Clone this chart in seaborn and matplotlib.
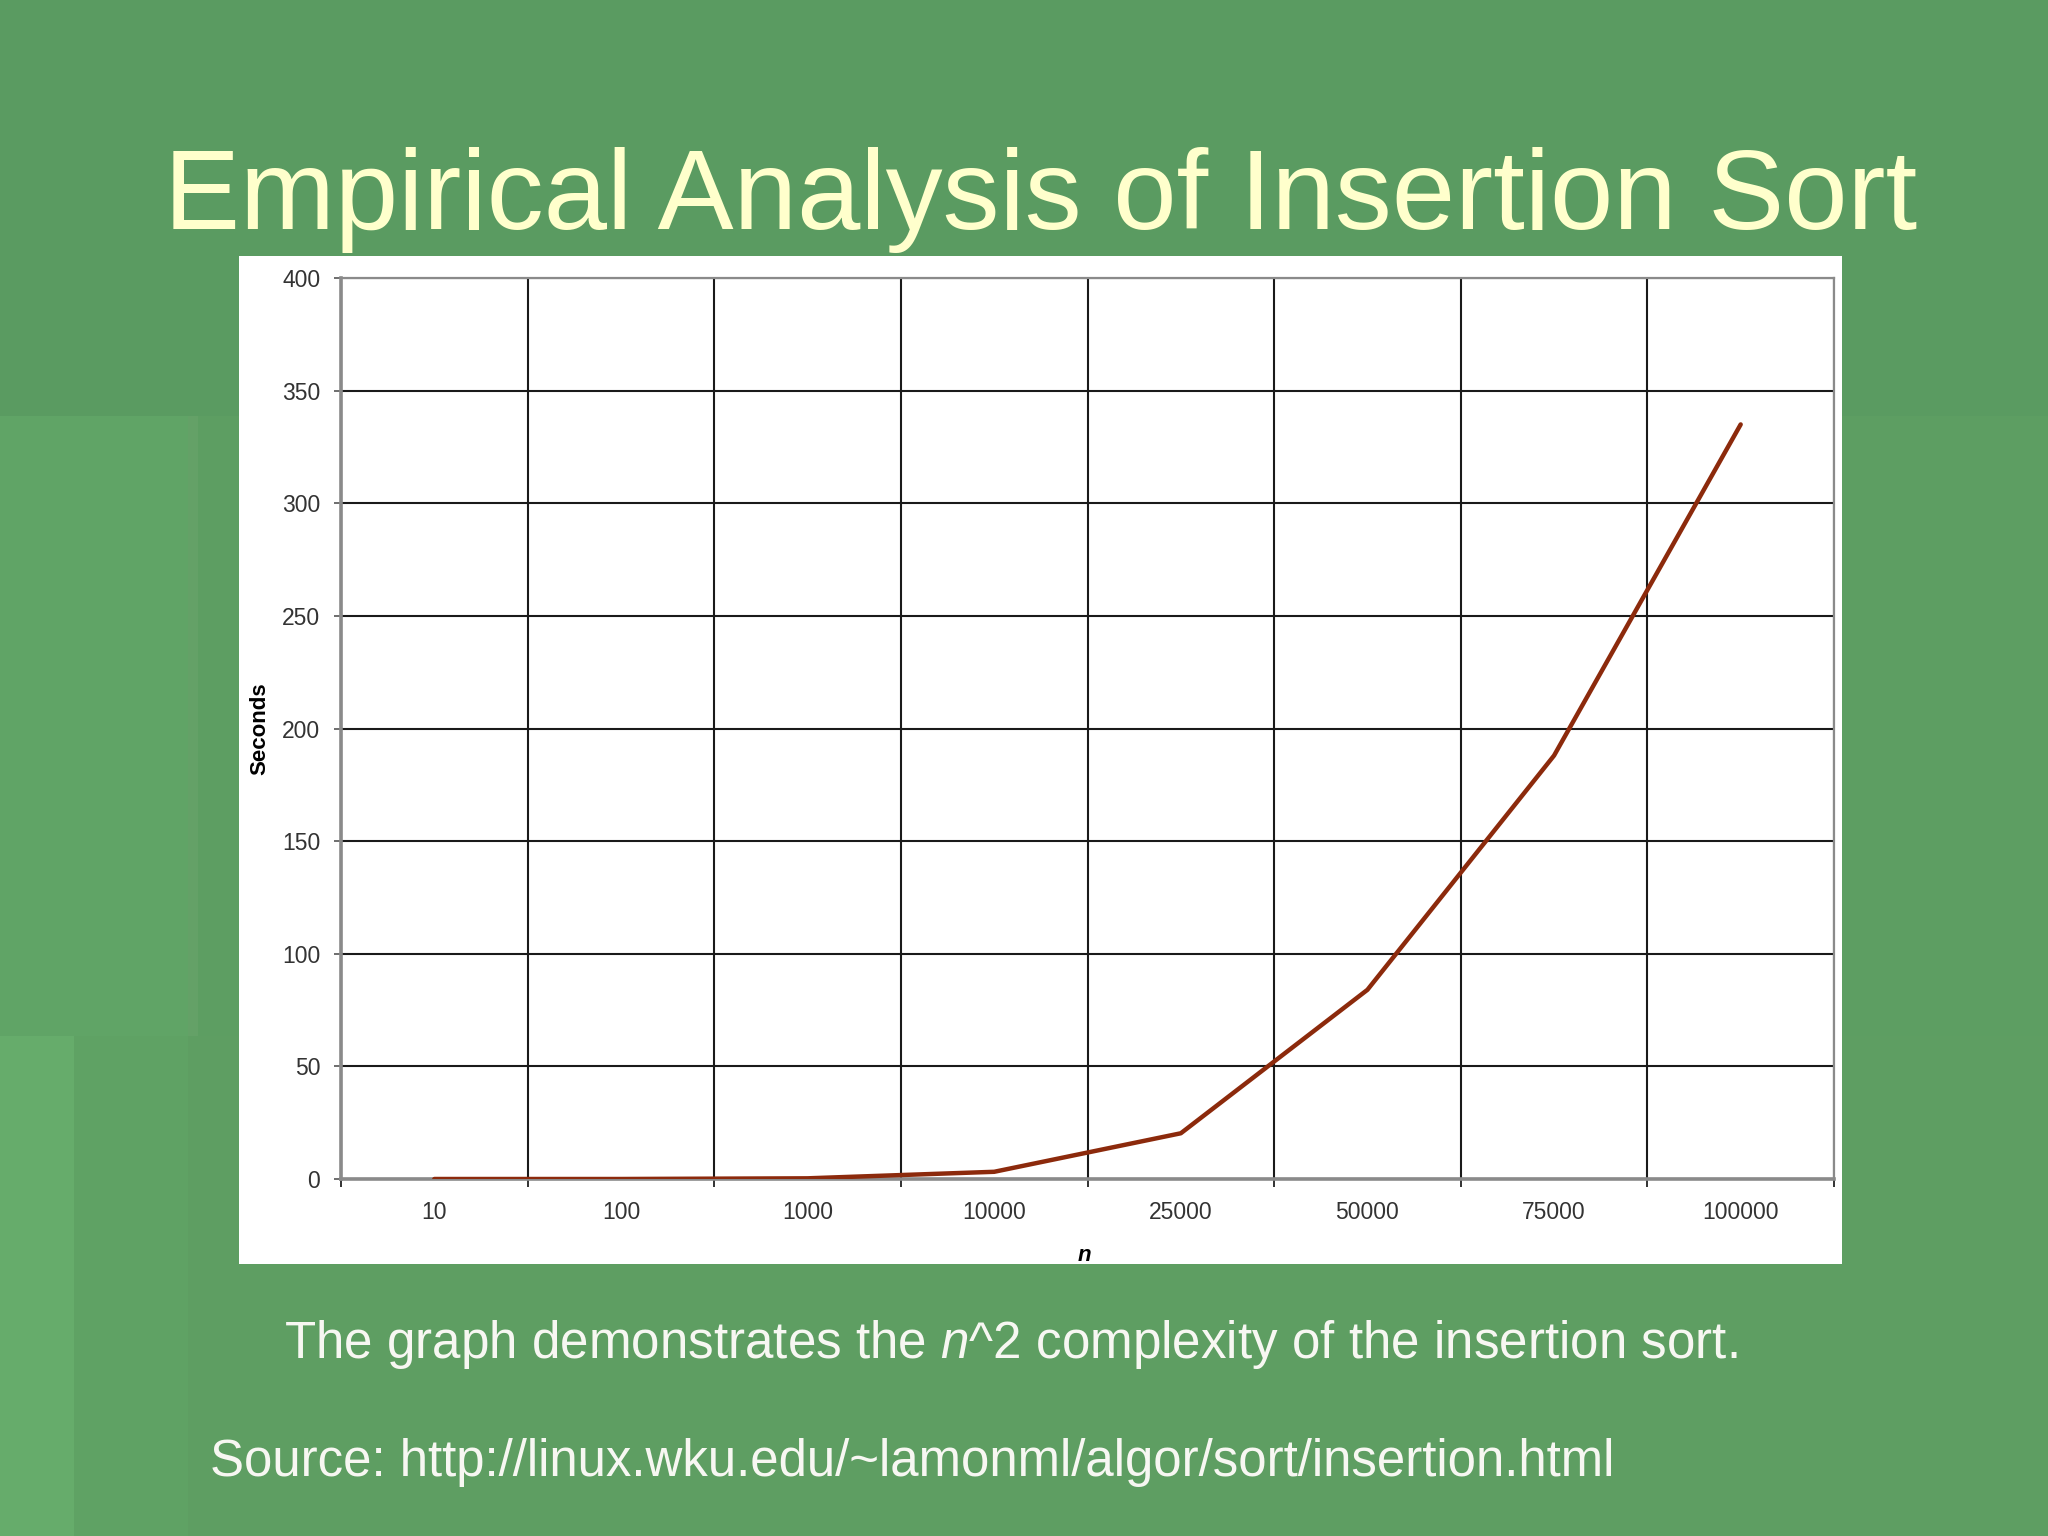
import matplotlib

matplotlib.use("Agg")
import matplotlib.pyplot as plt
import numpy as np
import pandas as pd
import seaborn as sns
from matplotlib.patches import Rectangle

# values
n_labels = ["10", "100", "1000", "10000", "25000", "50000", "75000", "100000"]
seconds = [0.0, 0.0, 0.3, 3.2, 20.3, 84.0, 188.0, 335.0]
y_ticks = [0, 50, 100, 150, 200, 250, 300, 350, 400]

title = "Empirical Analysis of Insertion Sort"
caption = r"The graph demonstrates the $\mathit{n}$^2 complexity of the insertion sort."
source = "Source: http://linux.wku.edu/~lamonml/algor/sort/insertion.html"

W, H = 2048, 1536

sns.set_theme(style="white")
plt.rcParams["font.family"] = ["Liberation Sans", "DejaVu Sans"]
plt.rcParams["mathtext.fontset"] = "custom"
plt.rcParams["mathtext.rm"] = "Liberation Sans"
plt.rcParams["mathtext.it"] = "Liberation Sans:italic"

fig = plt.figure(figsize=(W / 100, H / 100), dpi=100)
fig.patch.set_facecolor("#5a9b61")


def px_rect(x0, y0, x1, y1, color, z=0):
    # rectangle given in pixel coords, origin top-left
    fig.patches.append(
        Rectangle(
            (x0 / W, 1 - y1 / H),
            (x1 - x0) / W,
            (y1 - y0) / H,
            transform=fig.transFigure,
            facecolor=color,
            edgecolor="none",
            zorder=z,
        )
    )


# slide template panels
px_rect(0, 416, 2048, 1036, "#5d9e62")
px_rect(0, 1036, 2048, 1536, "#5e9e62")
px_rect(0, 416, 188, 1036, "#60a466")
px_rect(188, 416, 198, 1036, "#64a167")
px_rect(74, 1036, 188, 1536, "#5fa264")
px_rect(0, 1036, 74, 1536, "#66ac6b")
# white chart frame
px_rect(239, 256, 1842, 1264, "white", z=1)

ax = fig.add_axes([341 / W, 1 - 1179 / H, (1834 - 341) / W, (1179 - 278) / H])
ax.set_zorder(2)
ax.set_facecolor("white")

df = pd.DataFrame({"n": n_labels, "Seconds": seconds})
sns.lineplot(data=df, x="n", y="Seconds", sort=False, color="#8c2a0c",
             linewidth=3.2, ax=ax, zorder=5)

ax.set_xlim(-0.5, len(n_labels) - 0.5)
ax.set_ylim(0, 400)
ax.set_yticks(y_ticks)
ax.set_xticks(range(len(n_labels)))
ax.set_xticklabels(n_labels)
ax.set_xticks(np.arange(-0.5, len(n_labels)), minor=True)

ax.grid(False)
ax.yaxis.grid(True, color="#1a1a1a", linewidth=1.5)
ax.xaxis.grid(True, which="minor", color="#1a1a1a", linewidth=1.5)

ax.tick_params(axis="y", direction="out", length=5, width=1.2, color="#555555",
               left=True, pad=10, labelsize=16.5, labelcolor="#333333")
ax.tick_params(axis="x", which="major", length=0, pad=16, labelsize=16.5,
               labelcolor="#333333")
ax.tick_params(axis="x", which="minor", direction="out", length=6, width=1.4,
               color="#333333", bottom=True)

for side, lw in [("left", 2.6), ("bottom", 2.6), ("right", 1.6), ("top", 1.6)]:
    ax.spines[side].set_visible(True)
    ax.spines[side].set_color("#8a8a8a")
    ax.spines[side].set_linewidth(lw)

ax.set_ylabel("Seconds", fontsize=16, fontweight="bold", color="black")
ax.yaxis.set_label_coords(-0.047, 0.5)
ax.set_xlabel("n", fontsize=16, fontweight="bold", fontstyle="italic", color="black")
ax.xaxis.set_label_coords(0.498, -0.073)

fig.text(1041 / W, 1 - 229 / H, title, ha="center", va="baseline",
         fontsize=82, color="#ffffcc")
fig.text(284 / W, 1 - 1358 / H, caption, ha="left", va="baseline",
         fontsize=36.8, color="#f7f7f2")
fig.text(210 / W, 1 - 1476 / H, source, ha="left", va="baseline",
         fontsize=36.7, color="#f7f7f2")

fig.savefig("out.png", dpi=100, facecolor=fig.get_facecolor())
